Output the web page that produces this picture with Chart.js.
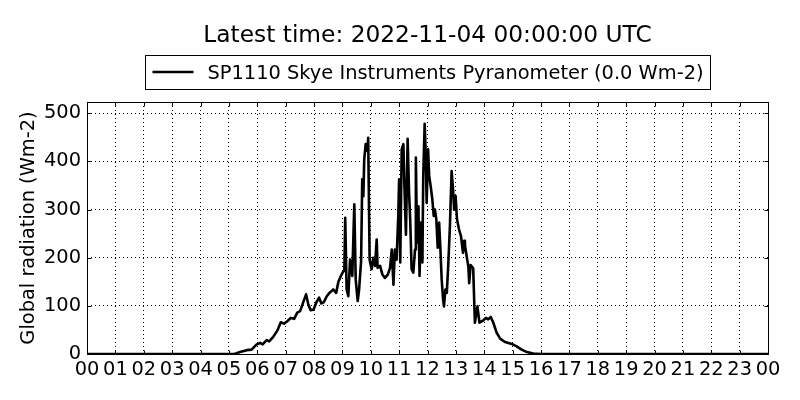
<!DOCTYPE html>
<html>
<head>
<meta charset="utf-8">
<script src="https://cdn.jsdelivr.net/npm/chart.js@4.4.0/dist/chart.umd.min.js"></script>
<style>
  html, body { margin: 0; padding: 0; background: #fff; }
</style>
</head>
<body>
<canvas id="pyranometer" width="800" height="400"></canvas>
<script>
// time of day in hours (UTC) and global radiation in Wm-2
const hours = [
  0, 5.2, 5.39, 5.63, 5.8, 5.98, 6.1, 6.19, 6.33, 6.42, 6.57, 6.71, 6.83, 6.94,
  7.06, 7.18, 7.3, 7.41, 7.51, 7.57, 7.72, 7.8, 7.88, 7.98, 8.09, 8.18, 8.26,
  8.35, 8.45, 8.56, 8.68, 8.78, 8.86, 8.97, 9.07, 9.1, 9.15, 9.21, 9.27, 9.35,
  9.42, 9.47, 9.54, 9.59, 9.66, 9.7, 9.74, 9.77, 9.82, 9.88, 9.91, 9.96, 10.03,
  10.09, 10.15, 10.21, 10.24, 10.33, 10.41, 10.5, 10.6, 10.68, 10.74, 10.8,
  10.85, 10.91, 10.97, 11.0, 11.04, 11.09, 11.15, 11.18, 11.24, 11.3, 11.35,
  11.39, 11.44, 11.5, 11.56, 11.59, 11.63, 11.68, 11.72, 11.77, 11.82, 11.85,
  11.9, 11.94, 11.97, 12.02, 12.06, 12.12, 12.17, 12.22, 12.26, 12.31, 12.36,
  12.41, 12.45, 12.5, 12.55, 12.58, 12.63, 12.68, 12.73, 12.79, 12.85, 12.9,
  12.94, 12.99, 13.04, 13.11, 13.18, 13.25, 13.29, 13.32, 13.44, 13.47, 13.52,
  13.61, 13.67, 13.76, 13.83, 13.97, 14.06, 14.14, 14.23, 14.32, 14.44, 14.56,
  14.73, 14.97, 15.14, 15.32, 15.5, 15.73, 16.0, 24
];
const radiation = [
  0, 0, 4, 8, 9, 20, 23, 20, 29, 26, 36, 49, 66, 63,
  68, 75, 73, 86, 89, 99, 124, 103, 91, 92, 108, 117, 105,
  108, 120, 128, 134, 127, 150, 165, 175, 283, 134, 120, 196, 162,
  311, 155, 110, 134, 193, 363, 328, 404, 436, 422, 449, 196, 176,
  200, 183, 238, 179, 183, 165, 158, 165, 179, 217, 144,
  217, 196, 287, 363, 190, 425, 436, 363, 248, 447, 335,
  280, 176, 169, 217, 408, 231, 307, 162, 273, 190, 370,
  478, 411, 314, 425, 370, 345, 321, 287, 300, 280, 221,
  273, 224, 155, 113, 99, 134, 127, 183, 266, 380, 342,
  300, 328, 280, 259, 245, 210, 235, 226, 181, 147, 185,
  178, 65, 99, 65, 70, 75, 72, 77, 65, 44, 32,
  25, 21, 16, 9, 4, 1, 0, 0
];
const hourLabels = ['00', '01', '02', '03', '04', '05', '06', '07', '08', '09', '10', '11',
  '12', '13', '14', '15', '16', '17', '18', '19', '20', '21', '22', '23', '00'];

const titleText = 'Latest time: 2022-11-04 00:00:00 UTC';
const legendText = 'SP1110 Skye Instruments Pyranometer (0.0 Wm-2)';
const yTitle = 'Global radiation (Wm-2)';

Chart.defaults.font.family = 'DejaVu Sans';
Chart.defaults.color = '#000';

// axes frame, inward ticks, title and boxed legend (matplotlib classic look)
const mplFrame = {
    id: 'mplFrame',
    afterDatasetsDraw(chart) {
        const {ctx, chartArea: a, scales} = chart;
        const l = Math.round(a.left) + 0.5, r = Math.round(a.right) + 0.5;
        const t = Math.round(a.top) + 0.5, b = Math.round(a.bottom) + 0.5;
        ctx.save();
        ctx.strokeStyle = '#000';
        ctx.lineWidth = 1;
        ctx.beginPath();
        scales.x.ticks.forEach(function (tick) {
            const px = Math.round(scales.x.getPixelForValue(tick.value)) + 0.5;
            ctx.moveTo(px, t); ctx.lineTo(px, t + 4);
            ctx.moveTo(px, b); ctx.lineTo(px, b - 4);
        });
        scales.y.ticks.forEach(function (tick) {
            const py = Math.round(scales.y.getPixelForValue(tick.value)) + 0.5;
            ctx.moveTo(l, py); ctx.lineTo(l + 4, py);
            ctx.moveTo(r, py); ctx.lineTo(r - 4, py);
        });
        ctx.stroke();
        ctx.strokeRect(l, t, r - l, b - t);
        ctx.restore();
    },
    afterDraw(chart) {
        const {ctx, chartArea: a} = chart;
        const cx = (a.left + a.right) / 2;
        ctx.save();
        ctx.fillStyle = '#000';
        ctx.textBaseline = 'alphabetic';

        ctx.textAlign = 'center';
        ctx.font = '23.3px "DejaVu Sans"';
        ctx.fillText(titleText, cx, 42);

        ctx.font = '19.4px "DejaVu Sans"';
        const textW = ctx.measureText(legendText).width;
        const boxW = Math.round(7 + 41 + 14 + textW + 7);
        const x0 = Math.round(cx - boxW / 2) + 0.5;
        ctx.strokeStyle = '#000';
        ctx.lineWidth = 1;
        ctx.strokeRect(x0, 55.5, boxW, 34);
        ctx.lineWidth = 2.5;
        ctx.beginPath();
        ctx.moveTo(x0 + 7, 72);
        ctx.lineTo(x0 + 48, 72);
        ctx.stroke();
        ctx.textAlign = 'left';
        ctx.fillText(legendText, x0 + 62, 78.5);
        ctx.restore();
    }
};

new Chart(document.getElementById('pyranometer'), {
    type: 'line',
    plugins: [mplFrame],
    data: {
        datasets: [{
            label: legendText,
            data: hours.map(function (h, i) { return {x: h, y: radiation[i]}; }),
            borderColor: '#000',
            borderWidth: 2.6,
            borderJoinStyle: 'round',
            pointRadius: 0,
            tension: 0,
            fill: false,
        }]
    },
    options: {
        responsive: false,
        animation: false,
        layout: {
            padding: {top: 102, right: 32, left: 0, bottom: 0}
        },
        plugins: {
            legend: {display: false},
            title: {display: false},
            tooltip: {enabled: false},
        },
        scales: {
            x: {
                type: 'linear',
                min: 0,
                max: 24,
                afterFit: function (scale) { scale.height = 46; },
                ticks: {
                    stepSize: 1,
                    autoSkip: false,
                    maxRotation: 0,
                    padding: 4,
                    font: {size: 19.4},
                    callback: function (value) { return hourLabels[value]; },
                },
                grid: {
                    color: '#000',
                    lineWidth: 1,
                    drawTicks: false,
                },
                border: {display: false, dash: [1, 3]},
            },
            y: {
                min: 0,
                max: 523.5,
                afterFit: function (scale) { scale.width = 87; },
                ticks: {
                    stepSize: 100,
                    includeBounds: false,
                    padding: 6,
                    font: {size: 19.4},
                },
                title: {
                    display: true,
                    text: yTitle,
                    font: {size: 19.4, lineHeight: 1.2},
                    padding: {top: 17, bottom: 0},
                },
                grid: {
                    color: '#000',
                    lineWidth: 1,
                    drawTicks: false,
                },
                border: {display: false, dash: [1, 3]},
            },
        },
    },
});
</script>
</body>
</html>
